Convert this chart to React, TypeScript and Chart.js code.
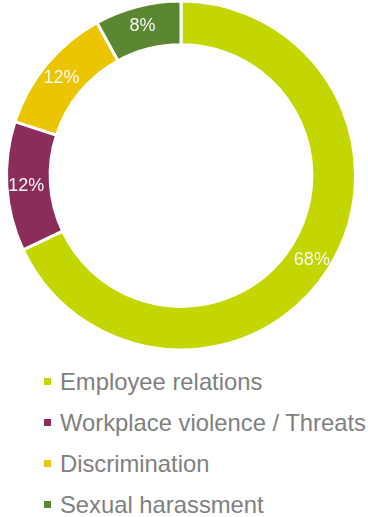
import React, { useEffect, useRef } from "react";
import { Chart, registerables } from "chart.js";

Chart.register(...registerables);

const categories = [
  "Employee relations",
  "Workplace violence / Threats",
  "Discrimination",
  "Sexual harassment",
];
const values = [68, 12, 12, 8];
const valueLabels = ["68%", "12%", "12%", "8%"];
const colors = ["#C4D600", "#8B2D5B", "#EBC500", "#5B8632"];

const FONT = '"Liberation Sans", Arial, Helvetica, sans-serif';

const sliceLabels = {
  id: "sliceLabels",
  afterDatasetsDraw(chart: any) {
    const ctx = chart.ctx;
    const meta = chart.getDatasetMeta(0);
    ctx.save();
    ctx.font = `18px ${FONT}`;
    ctx.fillStyle = "#F8F8F8";
    ctx.textAlign = "center";
    ctx.textBaseline = "middle";
    meta.data.forEach((arc: any, i: number) => {
      const p = arc.getProps(["x", "y", "startAngle", "endAngle", "outerRadius", "innerRadius"], true);
      const mid = (p.startAngle + p.endAngle) / 2;
      const r = 155;
      ctx.fillText(valueLabels[i], p.x + Math.cos(mid) * r, p.y + Math.sin(mid) * r + 1);
    });
    ctx.restore();
  },
};

export default function App() {
  const ref = useRef<HTMLCanvasElement>(null);
  useEffect(() => {
    document.body.style.margin = "0";
    const chart = new Chart(ref.current!, {
      type: "doughnut",
      data: {
        labels: categories,
        datasets: [
          {
            data: values,
            backgroundColor: colors,
            borderColor: "#FFFFFF",
            borderWidth: 3,
            radius: 174.5,
            cutout: 130.5,
          } as any,
        ],
      },
      options: {
        responsive: false,
        animation: false,
        layout: { padding: 0 },
        plugins: {
          legend: { display: false },
          tooltip: { enabled: false },
        },
      },
      plugins: [sliceLabels],
    });
    return () => chart.destroy();
  }, []);

  return (
    <div style={{ position: "absolute", left: 0, top: 0, width: 368, height: 517, background: "#fff" }}>
      <canvas ref={ref} width={362} height={351} style={{ position: "absolute", left: 0, top: 0 }} />
      <div style={{ position: "absolute", left: 0, top: 361, width: 368 }}>
        {categories.map((c, i) => (
          <div
            key={c}
            style={{ display: "flex", alignItems: "center", height: 41, whiteSpace: "nowrap" }}
          >
            <span
              style={{
                display: "inline-block",
                width: 7,
                height: 7,
                marginLeft: 44,
                marginRight: 9,
                background: colors[i],
              }}
            />
            <span style={{ fontFamily: FONT, fontSize: 23.8, color: "#808080", lineHeight: "41px" }}>{c}</span>
          </div>
        ))}
      </div>
    </div>
  );
}
